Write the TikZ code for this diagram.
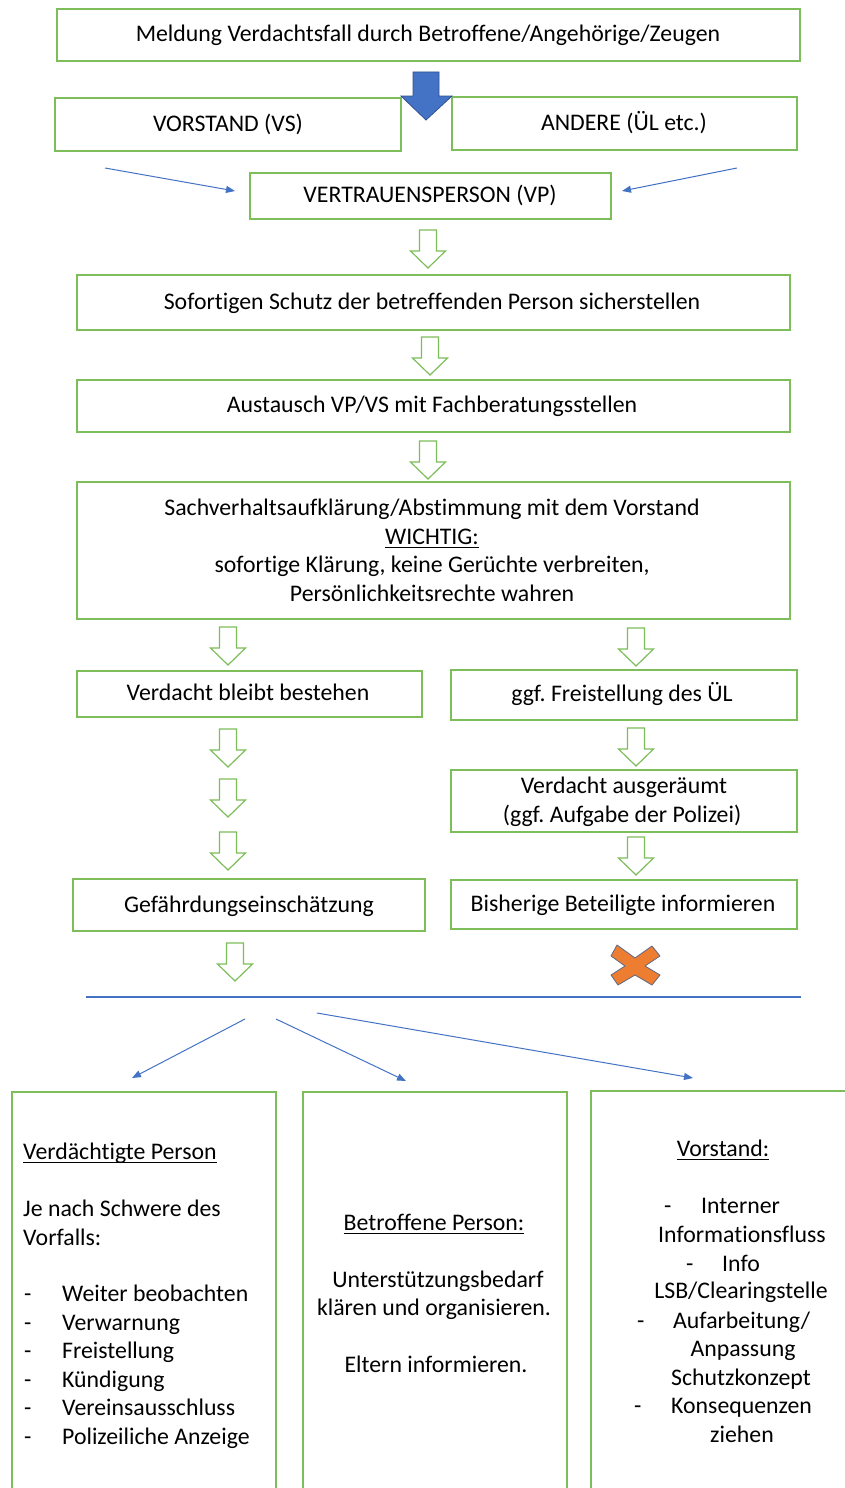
\documentclass[tikz,border=0pt]{standalone}
\usepackage{fontspec}
\setmainfont{Carlito}[Ligatures=NoCommon]
\frenchspacing
\usetikzlibrary{arrows.meta}
\definecolor{boxgreen}{RGB}{125,190,90}
\definecolor{offblue}{RGB}{68,114,196}
\definecolor{darkblue}{RGB}{47,82,143}
\definecolor{offorange}{RGB}{237,125,49}
\definecolor{xline}{RGB}{95,105,135}
\newcommand\fsz{\fontsize{23.8}{28.7}\selectfont}
\newcommand\myul[1]{\setbox0\hbox{#1}\rlap{\rule[-3.5pt]{\wd0}{1pt}}\box0}
% outline arrow: #1 = x centre, #2 = top y
\newcommand\garrow[2]{\draw[garr] (#1-8.5,#2) -- (#1+8.5,#2) -- (#1+8.5,#2+21) -- (#1+17.5,#2+21) -- (#1,#2+38) -- (#1-17.5,#2+21) -- (#1-8.5,#2+21) -- cycle;}
\begin{document}
\begin{tikzpicture}[x=1pt,y=-1pt,
  box/.style={draw=boxgreen,line width=1.3pt,inner sep=0pt},
  txt/.style={inner sep=0pt,font=\fsz},
  garr/.style={draw=boxgreen,line width=1.2pt,fill=white,line join=miter},
  thin/.style={draw=offblue,line width=1pt,-{Triangle[width=7pt,length=9pt]}}]
\useasboundingbox (0,0) rectangle (845,1488);
\clip (0,0) rectangle (845,1488);
\fill[white] (0,0) rectangle (845,1488);

% top boxes
\node[box,minimum width=743pt,minimum height=52pt] (b1) at (428.5,35) {};
\node[txt,anchor=base] (t1) at (428,41.5) {Meldung Verdachtsfall durch Betroffene/Angehörige/Zeugen};
\node[box,minimum width=346pt,minimum height=53pt] (bVS) at (228,124.5) {};
\node[txt,anchor=base] (tVS) at (228,131.5) {VORSTAND (VS)};
\node[box,minimum width=345pt,minimum height=53pt] (bAN) at (624.5,123.5) {};
\node[txt,anchor=base] (tAN) at (624,130.5) {ANDERE (ÜL etc.)};
\node[box,minimum width=361pt,minimum height=46pt] (bVP) at (430.5,196) {};
\node[txt,anchor=base] (tVP) at (430,202.5) {VERTRAUENSPERSON (VP)};

% big blue arrow
\draw[fill=offblue,draw=darkblue,line width=0.8pt] (413,72) -- (439,72) -- (439,96) -- (452,96) -- (426,120) -- (401,96) -- (413,96) -- cycle;

% thin blue arrows to VP
\coordinate (aL) at (105,168);
\coordinate (aLe) at (235,191);
\coordinate (aR) at (737,168);
\coordinate (aRe) at (622,191);
\draw[thin] (aL) -- (aLe);
\draw[thin] (aR) -- (aRe);

\garrow{428}{230}
\node[box,minimum width=713pt,minimum height=55pt] (bSchutz) at (433.5,302.5) {};
\node[txt,anchor=base] (tSchutz) at (432,309.5) {Sofortigen Schutz der betreffenden Person sicherstellen};
\garrow{430}{337}
\node[box,minimum width=713pt,minimum height=52pt] (bAus) at (433.5,406) {};
\node[txt,anchor=base] (tAus) at (432,412.5) {Austausch VP/VS mit Fachberatungsstellen};
\garrow{428}{441}
\node[box,minimum width=713pt,minimum height=137pt] (bBig) at (433.5,550.5) {};
\node[txt,anchor=base] (tB1) at (432,515.5) {Sachverhaltsaufklärung/Abstimmung mit dem Vorstand};
\node[txt,anchor=base] (tB2) at (432,544.5) {\myul{WICHTIG:}};
\node[txt,anchor=base] (tB3) at (432,572.5) {sofortige Klärung, keine Gerüchte verbreiten,};
\node[txt,anchor=base] (tB4) at (432,601.5) {Persönlichkeitsrechte wahren};

% left column
\garrow{228}{627}
\node[box,minimum width=345pt,minimum height=46pt] (bVB) at (249.5,694) {};
\node[txt,anchor=base] (tVB) at (248,700.5) {Verdacht bleibt bestehen};
\garrow{228}{729}
\garrow{228}{779}
\garrow{228}{832}
\node[box,minimum width=352pt,minimum height=52pt] (bGe) at (249,905) {};
\node[txt,anchor=base] (tGe) at (249,912.5) {Gefährdungseinschätzung};
\garrow{235}{943}

% right column
\garrow{636}{628}
\node[box,minimum width=346pt,minimum height=50pt] (bFr) at (624,695) {};
\node[txt,anchor=base] (tFr) at (622,701.5) {ggf. Freistellung des ÜL};
\garrow{636}{728}
\node[box,minimum width=346pt,minimum height=62pt] (bVA) at (624,801) {};
\node[txt,anchor=base] (tVA1) at (624,793.5) {Verdacht ausgeräumt};
\node[txt,anchor=base] (tVA2) at (622,822.5) {(ggf. Aufgabe der Polizei)};
\garrow{636}{837}
\node[box,minimum width=346pt,minimum height=49pt] (bBi) at (624,904.5) {};
\node[txt,anchor=base] (tBi) at (623,911.5) {Bisherige Beteiligte informieren};

% orange cross
\draw[fill=offorange,draw=xline,line width=0.8pt,line join=round] (617,945) -- (635,958) -- (652,946) -- (660,956) -- (645,966) -- (660,975) -- (652,985) -- (635,975) -- (618,985) -- (611,975) -- (625,966) -- (611,956) -- cycle;

% separator line
\coordinate (sepL) at (86,997);
\coordinate (sepR) at (801,997);
\draw[offblue,line width=1.3pt] (sepL) -- (sepR);

% arrows to bottom boxes
\coordinate (d1s) at (245,1019); \coordinate (d1e) at (132,1078);
\coordinate (d2s) at (276,1019); \coordinate (d2e) at (406,1081);
\coordinate (d3s) at (317,1013); \coordinate (d3e) at (693,1078);
\draw[thin] (d1s) -- (d1e);
\draw[thin] (d2s) -- (d2e);
\draw[thin] (d3s) -- (d3e);

% bottom boxes
\node[box,minimum width=264pt,minimum height=408pt] (bL) at (144,1296) {};
\node[box,minimum width=264pt,minimum height=408pt] (bM) at (435,1296) {};
\node[box,minimum width=269pt,minimum height=409pt] (bR) at (725.5,1295.5) {};

% left box text
\node[txt,anchor=base west] (l1) at (23,1159) {\myul{Verdächtigte Person}};
\node[txt,anchor=base west] (l2) at (23,1216) {Je nach Schwere des};
\node[txt,anchor=base west] (l3) at (23,1245) {Vorfalls:};
\foreach \yy/\tt [count=\i] in {1301/Weiter beobachten,1330/Verwarnung,1358/Freistellung,1387/Kündigung,1415/Vereinsausschluss,1444/Polizeiliche Anzeige}{
  \node[txt,anchor=base west] (ld\i) at (24,\yy) {-};
  \node[txt,anchor=base west] (li\i) at (62,\yy) {\tt};
}

% middle box text
\node[txt,anchor=base] (m1) at (434,1230) {\myul{Betroffene Person:}};
\node[txt,anchor=base] (m2) at (438,1287) {Unterstützungsbedarf};
\node[txt,anchor=base] (m3) at (434,1315) {klären und organisieren.};
\node[txt,anchor=base] (m4) at (436,1372) {Eltern informieren.};

% right box text
\node[txt,anchor=base] (r1) at (723,1156) {\myul{Vorstand:}};
\node[txt,anchor=base west] (r2d) at (664,1213) {-};
\node[txt,anchor=base west] (r2) at (701,1213) {Interner};
\node[txt,anchor=base] (r3) at (742,1242) {Informationsfluss};
\node[txt,anchor=base west] (r4d) at (686,1271) {-};
\node[txt,anchor=base west] (r4) at (722,1271) {Info};
\node[txt,anchor=base] (r5) at (741,1298) {LSB/Clearingstelle};
\node[txt,anchor=base west] (r6d) at (637,1328) {-};
\node[txt,anchor=base west] (r6) at (673,1328) {Aufarbeitung/};
\node[txt,anchor=base] (r7) at (743,1356) {Anpassung};
\node[txt,anchor=base] (r8) at (741,1385) {Schutzkonzept};
\node[txt,anchor=base west] (r9d) at (634,1413) {-};
\node[txt,anchor=base west] (r9) at (671,1413) {Konsequenzen};
\node[txt,anchor=base] (r10) at (742,1442) {ziehen};
\end{tikzpicture}
\end{document}
